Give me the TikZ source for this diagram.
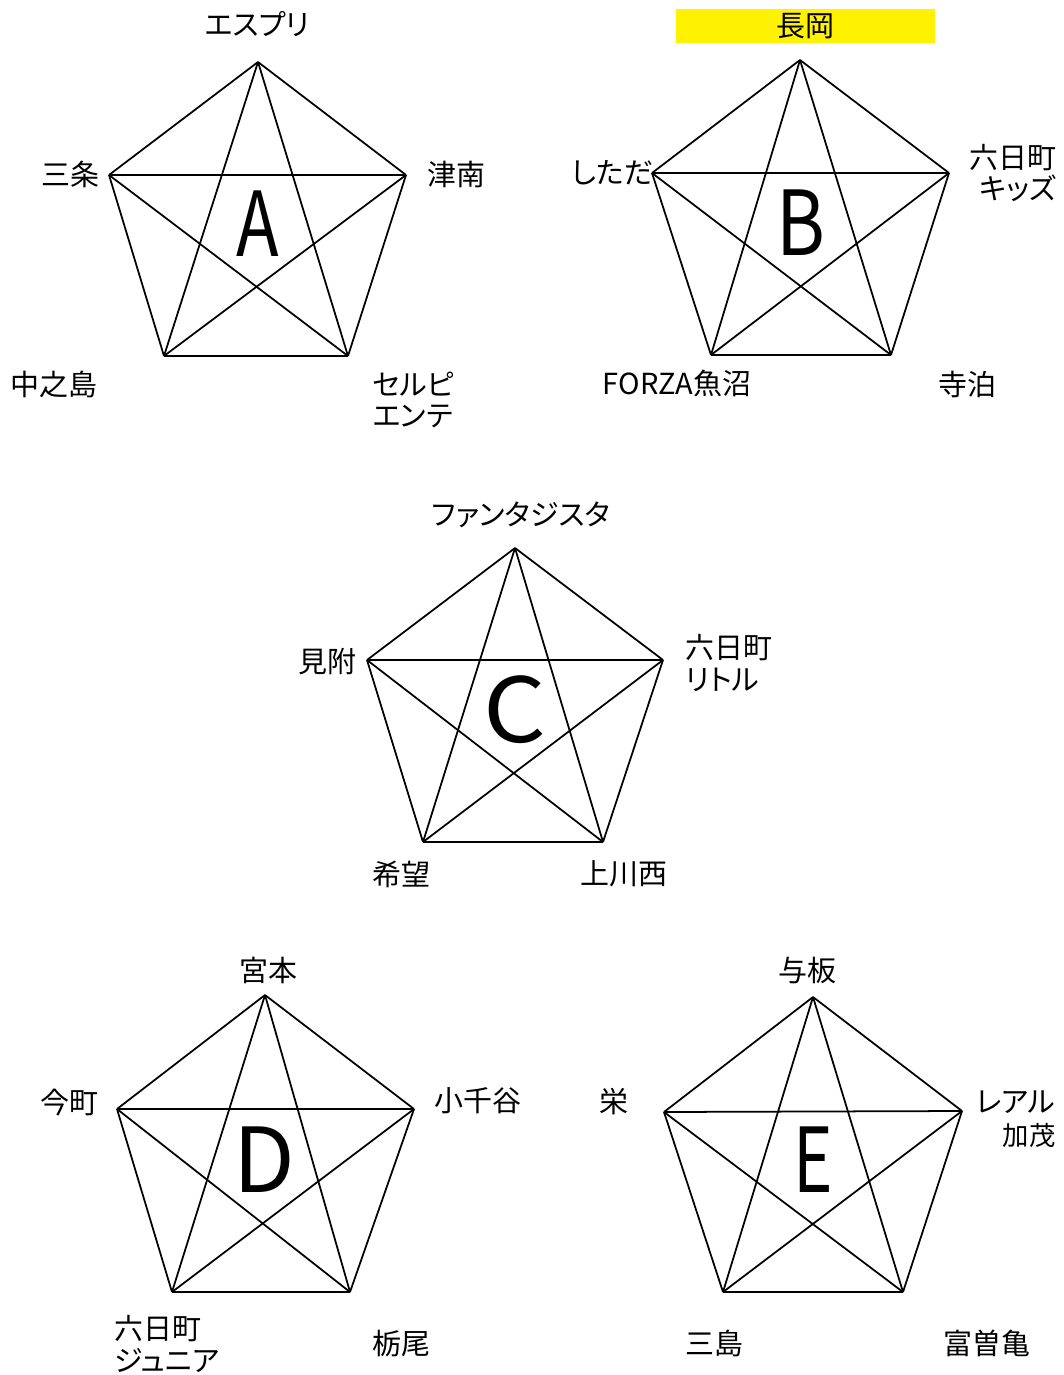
\documentclass[tikz,border=0pt]{standalone}
\usepackage{fontspec}
\setmainfont[CharacterWidth=AlternateProportional]{Noto Sans CJK JP}
\usepackage{tikz}
\tikzstyle{vertex}=[circle,inner sep=0pt,outer sep=0pt,minimum size=0pt]
\tikzstyle{team}=[inner sep=1pt,font=\fontsize{16.5}{18}\selectfont]
\tikzstyle{smallteam}=[inner sep=1pt,font=\fontsize{15}{17}\selectfont]
\tikzstyle{group}=[inner sep=0pt,font=\fontsize{51}{51}\selectfont]
\tikzstyle{hilite}=[fill=yellow,minimum width=5.18cm,minimum height=0.68cm,inner sep=0pt]
\newcommand{\grp}[2][0.8]{\scalebox{#1}[1]{#2}}

\begin{document}
\begin{tikzpicture}[x=0.02cm,y=-0.02cm,line width=1pt]
            \useasboundingbox (0,0) rectangle (1064,1375);

            % A PART

            \node[vertex] (a1) at (258,62) {};
            \node[vertex] (a2) at (406,175) {};
            \node[vertex] (a3) at (348,356) {};
            \node[vertex] (a4) at (164,356) {};
            \node[vertex] (a5) at (109,175) {};

            \node[team] (la1) at (257,24) {エスプリ};
            \node[team] (la2) at (456,174) {津南};
            \node[team,anchor=west,align=left] (la3) at (370,400) {セルピ\\エンテ};
            \node[team] (la4) at (54,384) {中之島};
            \node[team] (la5) at (70,174) {三条};
            \node[group] (ga) at (258,224) {\grp[0.78]{A}};

            \path (a1) edge (a2) edge (a3) edge (a4) edge (a5);
            \path (a2) edge (a3) edge (a4) edge (a5);
            \path (a3) edge (a4) edge (a5);
            \path (a4) edge (a5);

            % B PART

            \node[vertex] (b1) at (800,60) {};
            \node[vertex] (b2) at (949,173) {};
            \node[vertex] (b3) at (891,355) {};
            \node[vertex] (b4) at (711,355) {};
            \node[vertex] (b5) at (652,173) {};

            \node[hilite,team] (lb1) at (805.5,26) {長岡};
            \node[team,anchor=east,align=right] (lb2) at (1059,173) {六日町\\キッズ};
            \node[team] (lb3) at (967,384) {寺泊};
            \node[team] (lb4) at (677,383) {FORZA魚沼};
            \node[team] (lb5) at (613,173) {しただ};
            \node[group] (gb) at (801,223) {\grp[0.83]{B}};

            \path (b1) edge (b2) edge (b3) edge (b4) edge (b5);
            \path (b2) edge (b3) edge (b4) edge (b5);
            \path (b3) edge (b4) edge (b5);
            \path (b4) edge (b5);

            % C PART

            \node[vertex] (c1) at (515,548) {};
            \node[vertex] (c2) at (663,660) {};
            \node[vertex] (c3) at (603,842) {};
            \node[vertex] (c4) at (423,842) {};
            \node[vertex] (c5) at (367,660) {};

            \node[team] (lc1) at (521,515) {ファンタジスタ};
            \node[team,anchor=west,align=left] (lc2) at (683,663) {六日町\\リトル};
            \node[team] (lc3) at (624,874) {上川西};
            \node[team] (lc4) at (401,874) {希望};
            \node[team] (lc5) at (327,662) {見附};
            \node[group] (gc) at (515,710) {\grp[1.1]{C}};

            \path (c1) edge (c2) edge (c3) edge (c4) edge (c5);
            \path (c2) edge (c3) edge (c4) edge (c5);
            \path (c3) edge (c4) edge (c5);
            \path (c4) edge (c5);

            % D PART

            \node[vertex] (d1) at (265,995) {};
            \node[vertex] (d2) at (414,1109) {};
            \node[vertex] (d3) at (350,1292) {};
            \node[vertex] (d4) at (172,1292) {};
            \node[vertex] (d5) at (117,1109) {};

            \node[team] (ld1) at (268,970) {宮本};
            \node[team] (ld2) at (478,1101) {小千谷};
            \node[team] (ld3) at (401,1344) {栃尾};
            \node[team,anchor=west,align=left] (ld4) at (112,1344) {六日町\\ジュニア};
            \node[team] (ld5) at (69,1102) {今町};
            \node[group] (gd) at (264,1160) {\grp[1]{D}};

            \path (d1) edge (d2) edge (d3) edge (d4) edge (d5);
            \path (d2) edge (d3) edge (d4) edge (d5);
            \path (d3) edge (d4) edge (d5);
            \path (d4) edge (d5);

            % E PART

            \node[vertex] (e1) at (813,997) {};
            \node[vertex] (e2) at (962,1111) {};
            \node[vertex] (e3) at (903,1292) {};
            \node[vertex] (e4) at (723,1292) {};
            \node[vertex] (e5) at (664,1112) {};

            \node[team] (le1) at (807,970) {与板};
            \node[team,anchor=east] (le2) at (1058,1102) {レアル};
            \node[smallteam,anchor=east] (le2b) at (1058,1135) {加茂};
            \node[team] (le3) at (987,1343) {富曽亀};
            \node[team] (le4) at (714,1343) {三島};
            \node[team] (le5) at (614,1102) {栄};
            \node[group] (ge) at (813,1160) {\grp[0.75]{E}};

            \path (e1) edge (e2) edge (e3) edge (e4) edge (e5);
            \path (e2) edge (e3) edge (e4) edge (e5);
            \path (e3) edge (e4) edge (e5);
            \path (e4) edge (e5);

\end{tikzpicture}
\end{document}
